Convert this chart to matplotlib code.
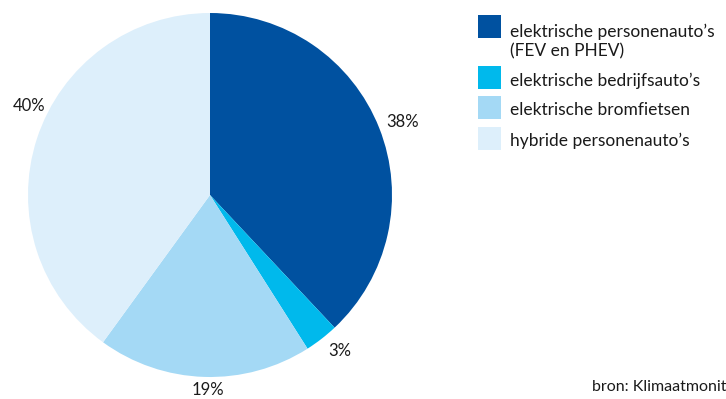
import matplotlib
matplotlib.use("Agg")
import matplotlib.pyplot as plt
from matplotlib.patches import Rectangle

categories = ["elektrische personenauto’s\n(FEV en PHEV)", "elektrische bedrijfsauto’s",
              "elektrische bromfietsen", "hybride personenauto’s"]
values = [38, 3, 19, 40]
labels = ["38%", "3%", "19%", "40%"]
colors = ["#0051A0", "#00B9EC", "#A4D9F5", "#DDEFFB"]

plt.rcParams['font.family'] = ['Lato', 'DejaVu Sans']

W, H = 726, 399
fig = plt.figure(figsize=(W / 100, H / 100), dpi=100)
cx, cy, r = 210, 195, 182
ax = fig.add_axes([(cx - r) / W, (H - cy - r) / H, 2 * r / W, 2 * r / H])
ax.pie(values, colors=colors, startangle=90, counterclock=False, radius=1,
       wedgeprops=dict(linewidth=0))
ax.set_xlim(-1, 1)
ax.set_ylim(-1, 1)
ax.set_aspect('equal')
ax.axis('off')

# label positions (pixel centers) converted to data units
label_px = [(403, 122), (340, 351), (208, 390), (29, 106)]
for lab, (px, py) in zip(labels, label_px):
    ax.text((px - cx) / r, (cy - py) / r, lab, ha='center', va='center',
            fontsize=12, color='#1a1a1a')

# legend
sq = 23
rows_sq_top = [15, 66, 96, 127]
text_y = [31, 80, 109, 140]
for i, (cat, col) in enumerate(zip(categories, colors)):
    y0 = rows_sq_top[i]
    fig.patches.append(Rectangle((478 / W, 1 - (y0 + sq) / H), sq / W, sq / H,
                                 transform=fig.transFigure, facecolor=col, edgecolor='none'))
    fig.text(510 / W, 1 - (text_y[i] - 7) / H, cat, ha='left', va='top',
             fontsize=12.5, color='#1a1a1a', linespacing=1.2)

fig.text(592 / W, 1 - 387 / H, "bron: Klimaatmonitor", ha='left', va='center',
         fontsize=11.5, color='#1a1a1a')

fig.savefig("out.png", dpi=100)
